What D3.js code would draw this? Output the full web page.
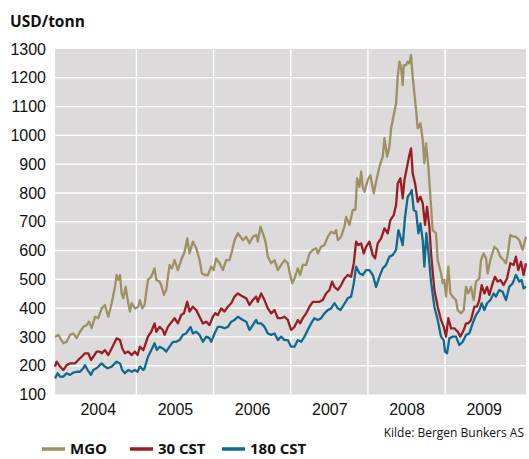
<!DOCTYPE html>
<html>
<head>
<meta charset="utf-8">
<script src="https://cdn.jsdelivr.net/npm/d3@7"></script>
<style>
  body { margin: 0; background: #fff; }
  svg { display: block; font-family: "Open Sans", "Noto Sans", sans-serif; }
  .axis text { font-size: 16px; fill: #111; }
  .axis path, .axis line { display: none; }
</style>
</head>
<body>
<svg id="chart" width="529" height="459"></svg>
<script>
// values, [decimal year, USD/tonn]
var mgo = [
  [2003.946,300],[2003.989,307],[2004.054,278],[2004.097,283],[2004.140,307],[2004.183,312],
  [2004.227,296],[2004.270,318],[2004.313,335],[2004.356,341],[2004.386,353],[2004.421,331],
  [2004.464,370],[2004.507,365],[2004.550,399],[2004.593,411],[2004.636,370],[2004.680,417],
  [2004.723,474],[2004.744,515],[2004.766,498],[2004.788,515],[2004.809,451],[2004.831,434],
  [2004.861,474],[2004.895,417],[2004.917,388],[2004.939,417],[2004.982,399],[2005.025,405],
  [2005.046,428],[2005.077,399],[2005.107,411],[2005.150,498],[2005.193,509],[2005.236,538],
  [2005.258,498],[2005.301,492],[2005.323,480],[2005.357,446],[2005.387,463],[2005.430,550],
  [2005.461,538],[2005.495,567],[2005.538,532],[2005.581,567],[2005.625,596],[2005.659,642],
  [2005.689,590],[2005.732,631],[2005.776,608],[2005.819,567],[2005.849,521],[2005.883,515],
  [2005.927,515],[2005.970,544],[2006.000,532],[2006.035,573],[2006.078,556],[2006.121,532],
  [2006.164,567],[2006.207,567],[2006.237,596],[2006.272,636],[2006.315,660],[2006.380,636],
  [2006.423,648],[2006.466,625],[2006.509,648],[2006.552,654],[2006.574,631],[2006.608,683],
  [2006.639,660],[2006.673,631],[2006.703,579],[2006.747,556],[2006.790,567],[2006.833,532],
  [2006.876,550],[2006.919,567],[2006.962,556],[2006.984,526],[2007.018,486],[2007.049,503],
  [2007.092,538],[2007.122,515],[2007.156,550],[2007.200,550],[2007.243,590],[2007.286,602],
  [2007.329,608],[2007.351,590],[2007.394,613],[2007.437,619],[2007.480,648],[2007.523,665],
  [2007.566,660],[2007.588,671],[2007.610,636],[2007.653,648],[2007.696,683],[2007.717,717],
  [2007.761,689],[2007.804,741],[2007.838,741],[2007.860,851],[2007.890,821],[2007.912,874],
  [2007.933,821],[2007.955,804],[2007.998,845],[2008.032,862],[2008.076,799],[2008.106,839],
  [2008.149,891],[2008.192,926],[2008.214,990],[2008.248,926],[2008.278,960],[2008.300,1024],
  [2008.334,1070],[2008.365,1111],[2008.386,1203],[2008.408,1256],[2008.429,1238],[2008.451,1175],
  [2008.464,1244],[2008.494,1244],[2008.516,1256],[2008.537,1250],[2008.559,1279],[2008.580,1203],
  [2008.602,1146],[2008.624,1088],[2008.645,1024],[2008.680,1042],[2008.710,984],[2008.731,903],
  [2008.753,972],[2008.783,891],[2008.818,752],[2008.839,671],[2008.882,660],[2008.904,567],
  [2008.947,521],[2008.969,486],[2008.990,498],[2009.012,440],[2009.042,544],[2009.068,451],
  [2009.098,440],[2009.141,428],[2009.163,393],[2009.206,382],[2009.241,393],[2009.271,474],
  [2009.301,451],[2009.335,474],[2009.370,428],[2009.400,492],[2009.443,503],[2009.465,567],
  [2009.499,590],[2009.530,573],[2009.551,521],[2009.586,567],[2009.638,613],[2009.681,602],
  [2009.715,579],[2009.758,567],[2009.789,556],[2009.810,584],[2009.845,654],[2009.888,648],
  [2009.918,648],[2009.961,636],[2010.004,602],[2010.048,648]
];

var cst30 = [
  [2003.946,197],[2003.968,214],[2004.011,197],[2004.054,185],[2004.097,202],[2004.140,208],
  [2004.205,208],[2004.248,220],[2004.291,231],[2004.334,243],[2004.378,243],[2004.412,220],
  [2004.442,231],[2004.485,249],[2004.529,249],[2004.550,243],[2004.593,254],[2004.636,237],
  [2004.680,260],[2004.744,295],[2004.788,289],[2004.818,260],[2004.852,243],[2004.895,249],
  [2004.939,237],[2004.982,249],[2005.016,237],[2005.046,266],[2005.090,254],[2005.107,266],
  [2005.150,301],[2005.193,318],[2005.236,347],[2005.258,318],[2005.301,335],[2005.344,324],
  [2005.366,307],[2005.409,335],[2005.443,347],[2005.495,365],[2005.538,347],[2005.581,376],
  [2005.616,382],[2005.659,422],[2005.689,388],[2005.732,405],[2005.776,393],[2005.819,370],
  [2005.862,347],[2005.905,353],[2005.948,341],[2005.991,370],[2006.022,382],[2006.056,376],
  [2006.099,399],[2006.142,388],[2006.186,405],[2006.229,417],[2006.272,440],[2006.315,451],
  [2006.380,440],[2006.423,434],[2006.466,411],[2006.509,428],[2006.552,440],[2006.574,422],
  [2006.617,451],[2006.660,428],[2006.703,399],[2006.747,382],[2006.790,393],[2006.833,365],
  [2006.876,365],[2006.919,370],[2006.962,359],[2007.005,324],[2007.049,335],[2007.092,359],
  [2007.122,347],[2007.156,365],[2007.200,382],[2007.243,405],[2007.286,422],[2007.329,422],
  [2007.372,422],[2007.415,428],[2007.458,451],[2007.502,463],[2007.536,492],[2007.566,474],
  [2007.610,463],[2007.653,480],[2007.696,503],[2007.739,515],[2007.782,509],[2007.817,556],
  [2007.847,631],[2007.877,619],[2007.912,625],[2007.946,590],[2007.976,613],[2008.019,631],
  [2008.063,584],[2008.093,573],[2008.127,625],[2008.171,642],[2008.214,677],[2008.257,660],
  [2008.291,706],[2008.334,723],[2008.365,758],[2008.386,833],[2008.421,851],[2008.451,781],
  [2008.473,845],[2008.507,891],[2008.537,932],[2008.559,955],[2008.580,868],[2008.611,833],
  [2008.645,769],[2008.680,787],[2008.710,764],[2008.740,689],[2008.766,752],[2008.796,683],
  [2008.818,590],[2008.861,463],[2008.904,405],[2008.947,359],[2008.982,335],[2009.012,301],
  [2009.042,365],[2009.077,330],[2009.120,330],[2009.163,318],[2009.197,301],[2009.241,324],
  [2009.271,347],[2009.301,347],[2009.335,359],[2009.379,405],[2009.413,405],[2009.443,428],
  [2009.474,480],[2009.508,451],[2009.543,474],[2009.573,446],[2009.616,486],[2009.646,509],
  [2009.681,492],[2009.715,498],[2009.758,480],[2009.802,503],[2009.845,556],[2009.888,550],
  [2009.918,579],[2009.948,532],[2009.983,561],[2010.017,515],[2010.048,556]
];

var cst180 = [
  [2003.946,156],[2003.981,174],[2004.011,162],[2004.054,162],[2004.097,174],[2004.140,168],
  [2004.183,176],[2004.227,179],[2004.270,179],[2004.313,191],[2004.334,202],[2004.369,185],
  [2004.412,168],[2004.442,185],[2004.485,191],[2004.550,208],[2004.593,197],[2004.628,191],
  [2004.680,197],[2004.744,214],[2004.788,208],[2004.818,185],[2004.852,174],[2004.895,185],
  [2004.939,179],[2004.982,185],[2005.016,179],[2005.046,197],[2005.090,185],[2005.107,191],
  [2005.150,231],[2005.193,254],[2005.236,278],[2005.266,254],[2005.301,266],[2005.344,260],
  [2005.387,249],[2005.430,266],[2005.474,283],[2005.517,283],[2005.560,289],[2005.603,307],
  [2005.646,312],[2005.702,335],[2005.732,312],[2005.776,318],[2005.819,307],[2005.862,283],
  [2005.905,301],[2005.948,295],[2005.970,283],[2006.013,312],[2006.056,335],[2006.099,335],
  [2006.142,330],[2006.186,335],[2006.229,353],[2006.272,359],[2006.315,370],[2006.380,359],
  [2006.423,353],[2006.466,324],[2006.509,341],[2006.552,359],[2006.574,347],[2006.617,347],
  [2006.660,335],[2006.703,312],[2006.747,307],[2006.790,312],[2006.833,289],[2006.876,301],
  [2006.919,289],[2006.962,289],[2007.005,266],[2007.049,266],[2007.092,289],[2007.135,283],
  [2007.178,301],[2007.221,324],[2007.264,347],[2007.307,365],[2007.351,359],[2007.394,365],
  [2007.437,382],[2007.480,393],[2007.523,399],[2007.566,417],[2007.610,399],[2007.644,393],
  [2007.687,411],[2007.739,434],[2007.782,440],[2007.817,486],[2007.847,544],[2007.890,521],
  [2007.933,515],[2007.976,532],[2008.019,532],[2008.063,515],[2008.106,474],[2008.149,509],
  [2008.192,538],[2008.235,550],[2008.279,579],[2008.321,584],[2008.365,602],[2008.395,671],
  [2008.421,648],[2008.451,619],[2008.481,717],[2008.516,787],[2008.550,799],[2008.567,810],
  [2008.593,741],[2008.624,735],[2008.654,660],[2008.680,694],[2008.710,636],[2008.731,544],
  [2008.757,660],[2008.785,590],[2008.818,490],[2008.861,405],[2008.904,359],[2008.947,301],
  [2008.982,289],[2008.999,249],[2009.025,243],[2009.055,295],[2009.098,301],[2009.141,301],
  [2009.184,272],[2009.228,283],[2009.271,307],[2009.314,312],[2009.357,347],[2009.400,376],
  [2009.443,393],[2009.474,417],[2009.508,393],[2009.543,417],[2009.586,428],[2009.629,451],
  [2009.659,440],[2009.702,463],[2009.745,457],[2009.789,428],[2009.832,474],[2009.875,486],
  [2009.918,515],[2009.961,492],[2009.991,498],[2010.017,469],[2010.048,474]
];

var yTicks = [100, 200, 300, 400, 500, 600, 700, 800, 900, 1000, 1100, 1200, 1300];
var yearLines = [2005, 2006, 2007, 2008, 2009];
var yearLabels = ["2004", "2005", "2006", "2007", "2008", "2009"];
var seriesNames = ["MGO", "30 CST", "180 CST"];
var seriesColors = ["#9d9163", "#9a1d24", "#0f6a90"];
var unitLabel = "USD/tonn";
var sourceLabel = "Kilde: Bergen Bunkers AS";

drawChart();

function drawChart() {
  var svg = d3.select("#chart");
  svg.selectAll("*").remove();

  // plot box
  var left = 55, right = 526, top = 49, bottom = 394.5;

  var allPts = mgo.concat(cst30, cst180);
  var x = d3.scaleLinear()
      .domain(d3.extent(allPts, function(d) { return d[0]; }))
      .range([left, right]);
  var y = d3.scaleLinear().domain([100, 1300]).range([bottom, top]);

  svg.append("rect")
      .attr("x", left).attr("y", top)
      .attr("width", right - left).attr("height", bottom - top)
      .attr("fill", "#dcdadb");

  // grid
  svg.append("g").selectAll("line")
      .data(yTicks.slice(1, -1))
    .enter().append("line")
      .attr("x1", left).attr("x2", right)
      .attr("y1", function(d) { return y(d); })
      .attr("y2", function(d) { return y(d); })
      .attr("stroke", "#fff").attr("stroke-width", 1.4);

  svg.append("g").selectAll("line")
      .data(yearLines)
    .enter().append("line")
      .attr("x1", function(d) { return x(d); })
      .attr("x2", function(d) { return x(d); })
      .attr("y1", top).attr("y2", bottom)
      .attr("stroke", "#fff").attr("stroke-width", 1.4);

  // axes (labels only)
  svg.append("g")
      .attr("class", "axis")
      .attr("transform", "translate(" + left + ",0)")
      .call(d3.axisLeft(y).tickValues(yTicks).tickSize(0).tickPadding(9).tickFormat(d3.format("d")));

  svg.append("g")
      .attr("class", "axis")
      .attr("transform", "translate(0," + bottom + ")")
      .call(d3.axisBottom(x)
        .tickValues(yearLabels.map(function(s) { return +s + 0.5; }))
        .tickSize(0).tickPadding(9)
        .tickFormat(function(d) { return String(Math.floor(d)); }));

  // lines
  var line = d3.line()
      .x(function(d) { return x(d[0]); })
      .y(function(d) { return y(d[1]); });

  [mgo, cst30, cst180].forEach(function(data, i) {
    svg.append("path")
        .datum(data)
        .attr("fill", "none")
        .attr("stroke", seriesColors[i])
        .attr("stroke-width", 2.3)
        .attr("stroke-linejoin", "round")
        .attr("d", line);
  });

  // titles
  svg.append("text")
      .attr("x", 10).attr("y", 27)
      .attr("font-size", 15.5).attr("font-weight", "bold")
      .attr("fill", "#111")
      .text(unitLabel);

  svg.append("text")
      .attr("x", 524).attr("y", 437)
      .attr("text-anchor", "end")
      .attr("font-size", 12)
      .attr("fill", "#111")
      .text(sourceLabel);

  // legend
  var legendX = [42, 130, 222];
  var lg = svg.append("g").selectAll("g")
      .data(seriesNames)
    .enter().append("g")
      .attr("transform", function(d, i) { return "translate(" + legendX[i] + ",449)"; });
  lg.append("line")
      .attr("x1", 0).attr("x2", 23)
      .attr("stroke", function(d, i) { return seriesColors[i]; })
      .attr("stroke-width", 3.5);
  lg.append("text")
      .attr("x", 28).attr("y", 5)
      .attr("font-size", 15).attr("font-weight", "bold")
      .attr("fill", "#111")
      .text(function(d) { return d; });
}
</script>
</body>
</html>
